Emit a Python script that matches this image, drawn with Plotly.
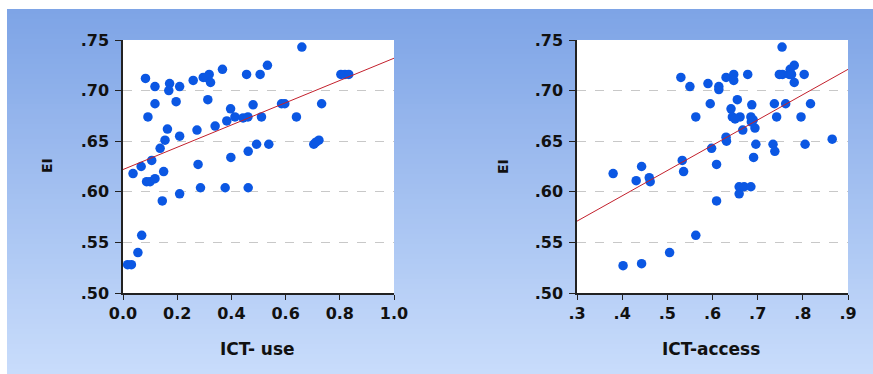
import plotly.graph_objects as go

# ---------------- data ----------------
ict_use = [0.083, 0.118, 0.118, 0.092, 0.172, 0.169, 0.209, 0.196, 0.164, 0.209,
           0.155, 0.137, 0.106, 0.067, 0.037, 0.150, 0.087, 0.100, 0.118, 0.145,
           0.209, 0.069, 0.055, 0.017, 0.031, 0.259, 0.296, 0.318, 0.308, 0.323,
           0.313, 0.367, 0.273, 0.340, 0.277, 0.286, 0.377, 0.383, 0.397, 0.398,
           0.413, 0.443, 0.461, 0.456, 0.480, 0.462, 0.462, 0.493, 0.506, 0.511,
           0.533, 0.538, 0.585, 0.597, 0.640, 0.660, 0.704, 0.723, 0.712, 0.733,
           0.804, 0.819, 0.833]
ei_use = [0.712, 0.704, 0.687, 0.674, 0.707, 0.700, 0.704, 0.689, 0.662, 0.655,
          0.651, 0.643, 0.631, 0.625, 0.618, 0.620, 0.610, 0.610, 0.613, 0.591,
          0.598, 0.557, 0.540, 0.528, 0.528, 0.710, 0.713, 0.716, 0.713, 0.708,
          0.691, 0.721, 0.661, 0.665, 0.627, 0.604, 0.604, 0.670, 0.682, 0.634,
          0.674, 0.673, 0.674, 0.716, 0.686, 0.640, 0.604, 0.647, 0.716, 0.674,
          0.725, 0.647, 0.687, 0.687, 0.674, 0.743, 0.647, 0.651, 0.649, 0.687,
          0.716, 0.716, 0.716]

ict_access = [0.380, 0.402, 0.443, 0.431, 0.443, 0.460, 0.462, 0.505, 0.530, 0.533,
              0.536, 0.550, 0.563, 0.563, 0.590, 0.595, 0.598, 0.609, 0.609, 0.614,
              0.614, 0.630, 0.630, 0.631, 0.641, 0.644, 0.647, 0.647, 0.655, 0.661,
              0.667, 0.659, 0.659, 0.678, 0.670, 0.685, 0.687, 0.685, 0.686, 0.691,
              0.694, 0.696, 0.754, 0.734, 0.738, 0.737, 0.742, 0.755, 0.762, 0.770,
              0.772, 0.781, 0.781, 0.775, 0.796, 0.803, 0.805, 0.817, 0.865, 0.748,
              0.690, 0.650]
ei_access = [0.618, 0.527, 0.529, 0.611, 0.625, 0.614, 0.610, 0.540, 0.713, 0.631,
             0.620, 0.704, 0.674, 0.557, 0.707, 0.687, 0.643, 0.627, 0.591, 0.704,
             0.701, 0.713, 0.654, 0.650, 0.682, 0.674, 0.716, 0.710, 0.691, 0.674,
             0.661, 0.605, 0.598, 0.716, 0.605, 0.605, 0.686, 0.674, 0.669, 0.634,
             0.663, 0.647, 0.743, 0.647, 0.640, 0.687, 0.674, 0.716, 0.687, 0.716,
             0.721, 0.725, 0.708, 0.716, 0.674, 0.716, 0.647, 0.687, 0.652, 0.716,
             0.671, 0.672]

# fitted line endpoints (x at axis ends, y)
fit_use_x = [0.0, 1.0]
fit_use_y = [0.622, 0.732]
fit_access_x = [0.3, 0.9]
fit_access_y = [0.571, 0.721]

y_ticks = [0.50, 0.55, 0.60, 0.65, 0.70, 0.75]
y_ticktext = [".50", ".55", ".60", ".65", ".70", ".75"]
x1_ticks = [0.0, 0.2, 0.4, 0.6, 0.8, 1.0]
x1_ticktext = ["0.0", "0.2", "0.4", "0.6", "0.8", "1.0"]
x2_ticks = [0.3, 0.4, 0.5, 0.6, 0.7, 0.8, 0.9]
x2_ticktext = [".3", ".4", ".5", ".6", ".7", ".8", ".9"]

# ---------------- layout helpers ----------------
W, H = 873, 374
def px_x(p):
    return p / W
def px_y(p):
    return 1 - p / H

def bold(labels):
    return ["<b>%s</b>" % t for t in labels]

MARKER = dict(color="#0b57e3", size=9.5, line=dict(width=0))
LINE = dict(color="#c3202c", width=1)
FONT = "DejaVu Sans, Verdana, sans-serif"

fig = go.Figure()
fig.add_trace(go.Scatter(x=ict_use, y=ei_use, mode="markers", marker=MARKER,
                         xaxis="x", yaxis="y", showlegend=False, cliponaxis=False))
fig.add_trace(go.Scatter(x=fit_use_x, y=fit_use_y, mode="lines", line=LINE,
                         xaxis="x", yaxis="y", showlegend=False))
fig.add_trace(go.Scatter(x=ict_access, y=ei_access, mode="markers", marker=MARKER,
                         xaxis="x2", yaxis="y2", showlegend=False, cliponaxis=False))
fig.add_trace(go.Scatter(x=fit_access_x, y=fit_access_y, mode="lines", line=LINE,
                         xaxis="x2", yaxis="y2", showlegend=False))

# gradient background via horizontal bands
shapes = []
top_c = (126, 164, 230)
bot_c = (200, 220, 251)
y0, y1 = 9, 374
n = 73
step = (y1 - y0) / n
for i in range(n):
    t = i / (n - 1)
    c = tuple(round(top_c[k] + (bot_c[k] - top_c[k]) * t) for k in range(3))
    ya = y0 + i * step
    yb = min(ya + step + 0.6, y1)
    shapes.append(dict(type="rect", xref="paper", yref="paper",
                       x0=px_x(7), x1=1.0, y0=max(px_y(yb), 0), y1=px_y(ya),
                       fillcolor="rgb(%d,%d,%d)" % c, line=dict(width=0), layer="below"))
# white plot areas
for (xa, xb) in [(123, 394), (577, 848)]:
    shapes.append(dict(type="rect", xref="paper", yref="paper",
                       x0=px_x(xa), x1=px_x(xb), y0=px_y(293), y1=px_y(40),
                       fillcolor="white", line=dict(width=0), layer="below"))

tickfont = dict(family=FONT, size=16, color="#111111")
common_y = dict(range=[0.5, 0.75], tickvals=y_ticks, ticktext=bold(y_ticktext),
                showline=True, linecolor="#222222", linewidth=1.5,
                ticks="outside", ticklen=6, tickcolor="#222222", tickwidth=1,
                ticklabelstandoff=3,
                showgrid=True, gridcolor="#c8c8c8", griddash="dash", gridwidth=1,
                zeroline=False, tickfont=tickfont, fixedrange=True, automargin=False)
common_x = dict(showline=True, linecolor="#222222", linewidth=1.5,
                ticks="outside", ticklen=5, tickcolor="#222222", tickwidth=1,
                showgrid=False, zeroline=False, tickfont=tickfont, fixedrange=True,
                automargin=False)

lab_font = dict(family=FONT, size=17, color="#111111")
ei_font = dict(family=FONT, size=14, color="#111111")
fig.update_layout(
    width=W, height=H, autosize=False,
    margin=dict(l=0, r=0, t=0, b=0, pad=0, autoexpand=False),
    paper_bgcolor="white",
    plot_bgcolor="rgba(0,0,0,0)",
    hovermode=False,
    shapes=shapes,
    xaxis=dict(domain=[px_x(123), px_x(394)], range=[0, 1.0], tickvals=x1_ticks,
               ticktext=bold(x1_ticktext), anchor="y", **common_x),
    yaxis=dict(domain=[px_y(293), px_y(40)], anchor="x", **common_y),
    xaxis2=dict(domain=[px_x(577), px_x(848)], range=[0.3, 0.9], tickvals=x2_ticks,
                ticktext=bold(x2_ticktext), anchor="y2", **common_x),
    yaxis2=dict(domain=[px_y(293), px_y(40)], anchor="x2", **common_y),
    annotations=[
        dict(text="<b>ICT- use</b>", xref="paper", yref="paper", x=px_x(257), y=px_y(349),
             xanchor="center", yanchor="middle", showarrow=False, font=lab_font),
        dict(text="<b>ICT-access</b>", xref="paper", yref="paper", x=px_x(711), y=px_y(349),
             xanchor="center", yanchor="middle", showarrow=False, font=lab_font),
        dict(text="<b>EI</b>", xref="paper", yref="paper", x=px_x(47), y=px_y(166),
             textangle=-90, xanchor="center", yanchor="middle", showarrow=False, font=ei_font),
        dict(text="<b>EI</b>", xref="paper", yref="paper", x=px_x(503), y=px_y(166),
             textangle=-90, xanchor="center", yanchor="middle", showarrow=False, font=ei_font),
    ],
)

# remove the default page margin so the figure sits at the window origin
fig.write_html("out.html", config={"displayModeBar": False},
               post_script="document.body.style.margin='0';")
